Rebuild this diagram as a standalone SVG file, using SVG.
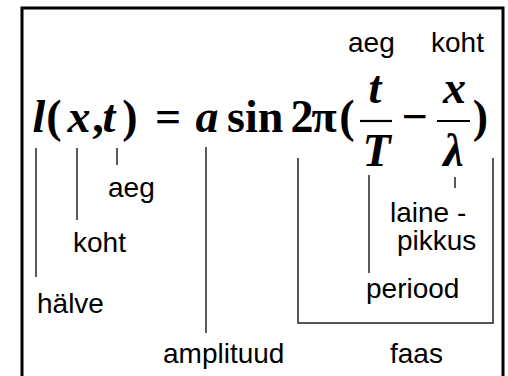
<svg xmlns="http://www.w3.org/2000/svg" width="508" height="376" viewBox="0 0 508 376">
  <style>
    .m { font-family: "Liberation Serif", "Times New Roman", serif; font-size: 46px; font-weight: bold; fill: #000; text-anchor: middle; }
    .mi { font-style: italic; }
    .lbl { font-family: "Liberation Sans", Arial, sans-serif; font-size: 28px; fill: #000; }
    .ln { stroke: #222; stroke-width: 1.5; fill: none; }
    .bar { stroke: #000; stroke-width: 2.2; }
  </style>
  <rect width="508" height="376" fill="#fff"/>
  <!-- frame, open at the bottom -->
  <path d="M22,380 V8 H503 V380" fill="none" stroke="#000" stroke-width="3"/>

  <!-- wave equation -->
  <g id="equation">
    <text class="m mi" x="39" y="132">l</text>
    <text class="m" x="54" y="132">(</text>
    <text class="m mi" x="79" y="132">x</text>
    <text class="m" x="98" y="132">,</text>
    <text class="m mi" x="109" y="132">t</text>
    <text class="m" x="130" y="132">)</text>
    <text class="m" x="168" y="132">=</text>
    <text class="m mi" x="207" y="132">a</text>
    <text class="m" x="227" y="132" style="text-anchor:start">sin</text>
    <text class="m" x="302" y="132">2</text>
    <text class="m" x="324" y="132">π</text>
    <text class="m" x="347" y="132">(</text>
    <text class="m mi" x="375" y="103">t</text>
    <line class="bar" x1="360" y1="121" x2="392" y2="121"/>
    <text class="m mi" x="376.5" y="166">T</text>
    <text class="m" x="414.5" y="132">−</text>
    <text class="m mi" x="454.5" y="103">x</text>
    <line class="bar" x1="437" y1="121" x2="470" y2="121"/>
    <text class="m mi" x="453.5" y="166">λ</text>
    <text class="m" x="480.5" y="132">)</text>
  </g>

  <!-- labels above the fractions -->
  <g id="aeg-top"><text class="lbl" x="348" y="52">aeg</text></g>
  <g id="koht-top"><text class="lbl" x="431" y="52">koht</text></g>

  <!-- labels below -->
  <g id="aeg"><text class="lbl" x="108" y="197">aeg</text></g>
  <g id="koht"><text class="lbl" x="73" y="252">koht</text></g>
  <g id="halve"><text class="lbl" x="37" y="313">hälve</text></g>
  <g id="amplituud"><text class="lbl" x="163" y="363">amplituud</text></g>
  <g id="lainepikkus">
    <text class="lbl" x="390" y="222">laine -</text>
    <text class="lbl" x="397" y="250">pikkus</text>
  </g>
  <g id="periood"><text class="lbl" x="366" y="298">periood</text></g>
  <g id="faas"><text class="lbl" x="390" y="363">faas</text></g>

  <!-- pointer lines -->
  <g id="connectors">
    <line class="ln" x1="36" y1="148" x2="36" y2="277"/>
    <line class="ln" x1="77" y1="148" x2="77" y2="220"/>
    <line class="ln" x1="117" y1="148" x2="117" y2="165"/>
    <line class="ln" x1="206" y1="147" x2="206" y2="333"/>
    <path class="ln" d="M298,158 V323 H493 V158"/>
    <line class="ln" x1="369" y1="175" x2="369" y2="273"/>
    <line class="ln" x1="455" y1="177" x2="455" y2="188"/>
  </g>
</svg>
